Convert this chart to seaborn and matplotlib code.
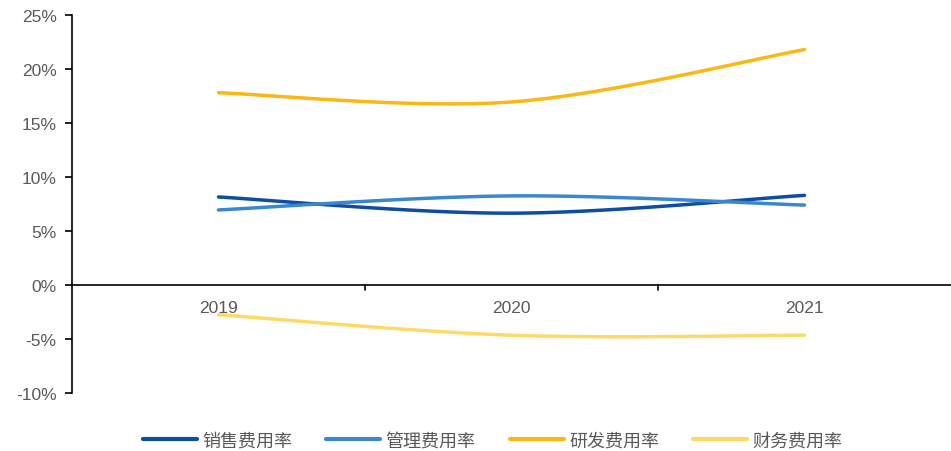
import numpy as np
import pandas as pd
import matplotlib
matplotlib.use("Agg")
import matplotlib.pyplot as plt
import seaborn as sns
from matplotlib.lines import Line2D

years = ["2019", "2020", "2021"]
series_names = ["销售费用率", "管理费用率", "研发费用率", "财务费用率"]
sales = [8.15, 6.65, 8.3]
admin = [6.95, 8.25, 7.4]
rnd = [17.8, 16.95, 21.8]
fin = [-2.75, -4.65, -4.65]
colors = ["#0B4EA2", "#3A86D0", "#FBB814", "#FFD966"]

sns.set_theme(style="white")
plt.rcParams['font.family'] = ['Liberation Sans', 'Noto Sans CJK SC', 'DejaVu Sans']


def smooth(vals, n=60):
    # Excel-style smoothed line (Catmull-Rom Bezier) through the data points
    p = np.column_stack([np.arange(len(vals), dtype=float), np.asarray(vals, float)])
    xs, ys = [], []
    for i in range(len(p) - 1):
        p0 = p[i - 1] if i > 0 else p[i]
        p1, p2 = p[i], p[i + 1]
        p3 = p[i + 2] if i + 2 < len(p) else p[i + 1]
        c1 = p1 + (p2 - p0) / 6
        c2 = p2 - (p3 - p1) / 6
        t = np.linspace(0, 1, n)[:, None]
        b = (1 - t) ** 3 * p1 + 3 * (1 - t) ** 2 * t * c1 + 3 * (1 - t) * t ** 2 * c2 + t ** 3 * p2
        xs.extend(b[:, 0]); ys.extend(b[:, 1])
    return xs, ys


frames = []
for name, vals in zip(series_names, [sales, admin, rnd, fin]):
    sx, sy = smooth(vals)
    frames.append(pd.DataFrame({"x": sx, "y": sy, "series": name}))
df = pd.concat(frames, ignore_index=True)

fig = plt.figure(figsize=(9.51, 4.52), dpi=100)
ax = fig.add_axes([72 / 951, 1 - 394 / 452, (951 - 72) / 951, (394 - 16) / 452])

sns.lineplot(data=df, x="x", y="y", hue="series", hue_order=series_names,
             palette=colors, linewidth=2.5, sort=False, estimator=None,
             legend=False, ax=ax)

ax.set_xlim(-0.5, 2.5)
ax.set_ylim(-10, 25)
ax.set_yticks(range(-10, 26, 5))
ax.set_yticklabels([f"{v}%" for v in range(-10, 26, 5)], color="#595959", fontsize=12.5)
ax.set_xlabel(""); ax.set_ylabel("")

for s in ["top", "right", "bottom"]:
    ax.spines[s].set_visible(False)
ax.spines["left"].set_color("black")
ax.spines["left"].set_linewidth(1.2)
ax.tick_params(axis="y", which="both", left=True, length=5, width=1.2, color="black", pad=6)

# category axis at y=0
ax.axhline(0, color="black", linewidth=1.2, zorder=1)
ax.set_xticks([])
for b in [0.5, 1.5]:
    ax.plot([b, b], [0, -0.45], color="black", linewidth=1.2, clip_on=False)
for i, yr in enumerate(years):
    ax.text(i, -2.05, yr, ha="center", va="center", color="#595959", fontsize=12.5)

handles = [Line2D([0], [0], color=c, linewidth=3) for c in colors]
leg = fig.legend(handles, series_names, loc="center", bbox_to_anchor=(0.518, 0.024),
                 ncol=4, frameon=False, handlelength=3.0, columnspacing=1.9,
                 handletextpad=0.28, prop={"family": ["Noto Sans CJK SC"], "size": 13})
for t in leg.get_texts():
    t.set_color("#595959")

fig.savefig("out.png", dpi=100)
